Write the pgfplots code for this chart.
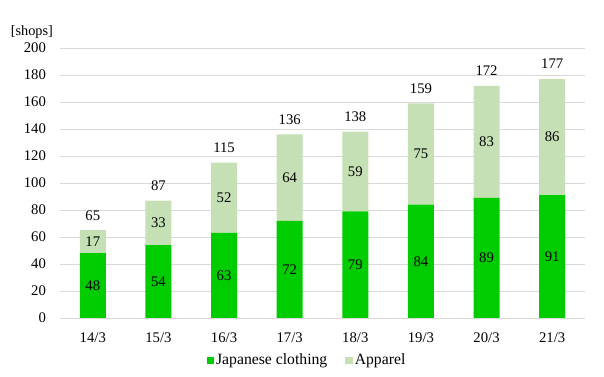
\documentclass[border=0pt]{standalone}
\usepackage{fontspec}
\setmainfont{Liberation Serif}
\usepackage{pgfplots}
\pgfplotsset{compat=1.18}
\definecolor{jap}{RGB}{0,204,0}
\definecolor{app}{RGB}{197,224,180}
\definecolor{gridc}{RGB}{217,217,217}
\newcommand{\tf}{\fontsize{14.7bp}{17bp}\selectfont}
\begin{document}
\tf
\begin{tikzpicture}
\path[use as bounding box] (-60bp,-59bp) rectangle (544bp,318bp);
\begin{axis}[
  at={(0,0)}, anchor=south west,
  scale only axis, width=525bp, height=270bp,
  ybar stacked, bar width=26bp,
  xmin=-0.5, xmax=7.5, ymin=0, ymax=200,
  xtick={0,...,7},
  xticklabels={14/3,15/3,16/3,17/3,18/3,19/3,20/3,21/3},
  ytick={0,20,...,200},
  ymajorgrids, grid style={gridc, line width=0.75bp},
  axis x line*=bottom, axis y line*=left,
  x axis line style={gridc, line width=0.75bp, -},
  y axis line style={draw=none},
  major tick length=0pt,
  /pgf/number format/assume math mode=true,
  ticklabel style={font=\tf},
  xticklabel style={yshift=-10bp},
  yticklabel style={xshift=-9bp},
  every axis y label/.style={at={(rel axis cs:0,1)}, anchor=east, xshift=-2bp, yshift=16bp, font=\fontsize{14.3bp}{16bp}\selectfont},
  ylabel={[shops]},
  legend style={at={(247bp,-42bp)}, anchor=center, draw=none, legend columns=2,
    font=\fontsize{15.7bp}{18bp}\selectfont, inner sep=0pt,
    /tikz/every even column/.append style={column sep=16bp}},
  legend image code/.code={\fill[#1] (1bp,-3.5bp) rectangle (8.5bp,3.5bp);},
]
\addplot[fill=jap, draw=none] coordinates {(0,48) (1,54) (2,63) (3,72) (4,79) (5,84) (6,89) (7,91)};
\addplot[fill=app, draw=none] coordinates {(0,17) (1,33) (2,52) (3,64) (4,59) (5,75) (6,83) (7,86)};
\legend{Japanese clothing, Apparel}
\end{axis}
\begin{axis}[
  at={(0,0)}, anchor=south west,
  scale only axis, width=525bp, height=270bp,
  xmin=-0.5, xmax=7.5, ymin=0, ymax=200,
  hide axis, clip=false,
  nodes near coords, point meta=explicit symbolic,
  every node near coord/.append style={font=\tf, text=black},
]
\addplot[draw=none, mark=none, nodes near coords, every node near coord/.append style={anchor=center}]
  coordinates {(0,24) [48] (1,27) [54] (2,31.5) [63] (3,36) [72] (4,39.5) [79] (5,42) [84] (6,44.5) [89] (7,45.5) [91]};
\addplot[draw=none, mark=none, nodes near coords, every node near coord/.append style={anchor=center}]
  coordinates {(0,56.5) [17] (1,70.5) [33] (2,89) [52] (3,104) [64] (4,108.5) [59] (5,121.5) [75] (6,130.5) [83] (7,134) [86]};
\addplot[draw=none, mark=none, nodes near coords, every node near coord/.append style={anchor=center, yshift=15bp}]
  coordinates {(0,65) [65] (1,87) [87] (2,115) [115] (3,136) [136] (4,138) [138] (5,159) [159] (6,172) [172] (7,177) [177]};
\end{axis}
\end{tikzpicture}
\end{document}
